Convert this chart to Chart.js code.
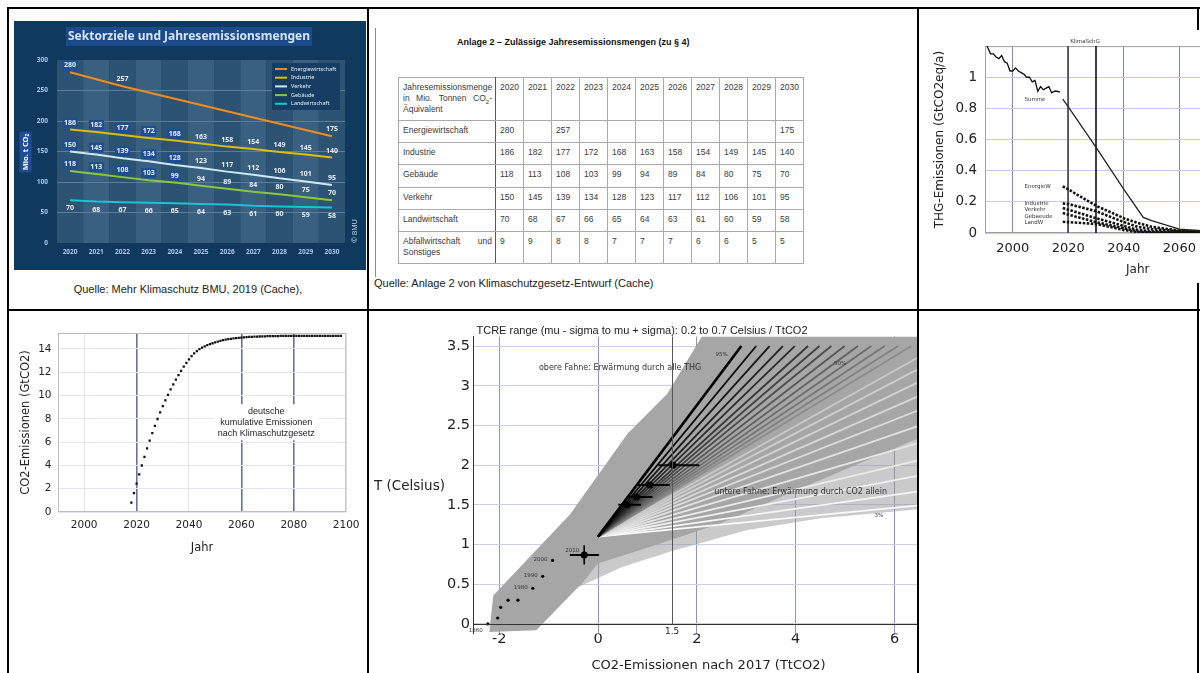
<!DOCTYPE html>
<html lang="de">
<head>
<meta charset="utf-8">
<title>Klimaschutzgesetz: Sektorziele und Emissionsbudget</title>
<script src="https://cdn.jsdelivr.net/npm/chart.js@4.4.1/dist/chart.umd.min.js"></script>
<style>
  html, body { margin: 0; padding: 0; background: #fff; }
  body { position: relative; width: 1200px; height: 673px; overflow: hidden;
         font-family: "Liberation Sans", Arial, sans-serif; color: #222; }
  .rule { position: absolute; background: #000; z-index: 3; }
  .plot { position: absolute; z-index: 1; background: #fff; }
  .caption { position: absolute; font-size: 11px; line-height: 13px; white-space: nowrap; color: #222; }
  #anlageTitel { position: absolute; left: 457px; top: 37px; font-size: 9px; line-height: 11px;
                 font-weight: bold; white-space: nowrap; color: #111; }
  #anlage { position: absolute; left: 398px; top: 77px; width: 405px; border-collapse: collapse;
            table-layout: fixed; font-size: 8.5px; color: #3a3a3a; }
  #anlage td { border: 1px solid #a9a9a9; padding: 4px 3px 0 4px; vertical-align: top;
               line-height: 11px; white-space: nowrap; overflow: hidden; }
  #anlage td:first-child { border-right: 1.5px solid #555; }
  .zeile { display: flex; justify-content: space-between; }
  .zeile sub { font-size: 6px; line-height: 0; }
</style>
</head>
<body>
  <!-- Rahmen der Seitentabelle -->
  <div class="rule" style="left:7px; top:7px; width:1193px; height:2px"></div>
  <div class="rule" style="left:7px; top:309px; width:1193px; height:2px"></div>
  <div class="rule" style="left:7px; top:7px; width:2px; height:666px"></div>
  <div class="rule" style="left:367px; top:7px; width:2px; height:666px"></div>
  <div class="rule" style="left:917px; top:7px; width:2px; height:666px"></div>
  <div class="rule" style="left:1197px; top:7px; width:2px; height:666px; z-index:0"></div>

  <!-- Zelle 1: BMU-Grafik -->
  <canvas id="bmu" class="plot" width="352" height="249" style="left:14px; top:21px"></canvas>
  <div class="caption" style="left:8px; width:360px; text-align:center; top:283px">Quelle: Mehr Klimaschutz BMU, 2019 (Cache),</div>

  <!-- Zelle 2: Anlage 2 -->
  <div style="position:absolute; left:375px; top:28px; width:1px; height:249px; background:#8c8c8c"></div>
  <div id="anlageTitel">Anlage 2 – Zulässige Jahresemissionsmengen (zu § 4)</div>
  <table id="anlage">
    <colgroup>
      <col style="width:97px"><col style="width:28px"><col style="width:28px"><col style="width:28px">
      <col style="width:28px"><col style="width:28px"><col style="width:28px"><col style="width:28px">
      <col style="width:28px"><col style="width:28px"><col style="width:28px"><col style="width:28px">
    </colgroup>
    <tbody id="anlageBody"></tbody>
  </table>
  <div class="caption" style="left:374px; top:277px">Quelle: Anlage 2 von Klimaschutzgesetz-Entwurf (Cache)</div>

  <!-- Zelle 3: THG-Emissionen -->
  <canvas id="thg" class="plot" width="395" height="253" style="left:920px; top:30px"></canvas>

  <!-- Zelle 4: kumulative Emissionen -->
  <canvas id="kumuliert" class="plot" width="356" height="250" style="left:10px; top:312px"></canvas>

  <!-- Zelle 5: TCRE -->
  <div class="plot" style="left:370px; top:318px; width:547px; height:355px; overflow:hidden">
    <canvas id="tcre" width="580" height="355"></canvas>
  </div>

<script>
// ---- Anlage 2: Jahresemissionsmengen in Mio. t CO2-Äquivalent ----
const jahre = ['2020', '2021', '2022', '2023', '2024', '2025', '2026', '2027', '2028', '2029', '2030'];
const energiewirtschaft = [280, null, 257, null, null, null, null, null, null, null, 175];
const industrie = [186, 182, 177, 172, 168, 163, 158, 154, 149, 145, 140];
const gebaeude = [118, 113, 108, 103, 99, 94, 89, 84, 80, 75, 70];
const verkehr = [150, 145, 139, 134, 128, 123, 117, 112, 106, 101, 95];
const landwirtschaft = [70, 68, 67, 66, 65, 64, 63, 61, 60, 59, 58];
const abfall = [9, 9, 8, 8, 7, 7, 7, 6, 6, 5, 5];
const bmuTicks = [0, 50, 100, 150, 200, 250, 300];

// ---- THG-Emissionen (GtCO2eq/a) ----
const thgJahre = [1990, 1991, 1992, 1993, 1994, 1995, 1996, 1997, 1998, 1999, 2000, 2001, 2002, 2003,
                  2004, 2005, 2006, 2007, 2008, 2009, 2010, 2011, 2012, 2013, 2014, 2015, 2016, 2017];
const thgSumme = [1.24, 1.19, 1.15, 1.15, 1.13, 1.12, 1.14, 1.10, 1.09, 1.04, 1.04, 1.06, 1.04, 1.03,
                  1.02, 1.00, 1.00, 0.97, 0.98, 0.91, 0.94, 0.92, 0.93, 0.94, 0.90, 0.91, 0.91, 0.905];
const prognoseJahre = [2018, 2020, 2030, 2040, 2047, 2050, 2060, 2070, 2100];
const prognoseSumme = [0.86, 0.81, 0.55, 0.28, 0.10, 0.08, 0.025, 0.012, 0.01];
const sektorJahre = [2018, 2020, 2030, 2040, 2045, 2050, 2060, 2070, 2100];
const sektorEnergie = [0.30, 0.28, 0.175, 0.095, 0.065, 0.04, 0.015, 0.01, 0.01];
const sektorIndustrie = [0.19, 0.186, 0.14, 0.07, 0.04, 0.025, 0.012, 0.01, 0.01];
const sektorVerkehr = [0.16, 0.15, 0.095, 0.045, 0.02, 0.01, 0.005, 0.005, 0.005];
const sektorGebaeude = [0.128, 0.118, 0.07, 0.03, 0.01, 0.005, 0.002, 0.002, 0.002];
const sektorLandw = [0.072, 0.07, 0.058, 0.02, 0.004, 0.002, 0.001, 0.001, 0.001];
const klimaSchGJahre = [2020, 2030];
const thgXTicks = [2000, 2020, 2040, 2060, 2080, 2100];
const thgYTicks = [0, 0.2, 0.4, 0.6, 0.8, 1.0];

// ---- kumulative CO2-Emissionen (GtCO2) ----
const co2Jahre = [2018, 2019, 2020, 2021, 2022, 2023, 2024, 2025, 2026, 2027,
                  2028, 2029, 2030, 2031, 2032, 2033, 2034, 2035, 2036, 2037,
                  2038, 2039, 2040, 2041, 2042, 2043, 2044, 2045, 2046, 2047,
                  2048, 2049, 2050, 2051, 2052, 2053, 2054, 2055, 2056, 2057,
                  2058, 2059, 2060, 2061, 2062, 2063, 2064, 2065, 2066, 2067,
                  2068, 2069, 2070, 2071, 2072, 2073, 2074, 2075, 2076, 2077,
                  2078, 2079, 2080, 2081, 2082, 2083, 2084, 2085, 2086, 2087,
                  2088, 2089, 2090, 2091, 2092, 2093, 2094, 2095, 2096, 2097, 2098];
const co2Kumuliert = [0.80, 1.62, 2.43, 3.22, 3.99, 4.74, 5.45, 6.12, 6.77, 7.39,
                      7.98, 8.54, 9.08, 9.58, 10.06, 10.52, 10.95, 11.36, 11.75, 12.12,
                      12.47, 12.80, 13.10, 13.37, 13.61, 13.81, 13.97, 14.10, 14.21, 14.31,
                      14.40, 14.48, 14.56, 14.63, 14.69, 14.74, 14.79, 14.83, 14.86, 14.89,
                      14.92, 14.94, 14.96, 14.98, 15.00, 15.02, 15.03, 15.04, 15.05, 15.06,
                      15.07, 15.08, 15.09, 15.09, 15.10, 15.10, 15.10, 15.11, 15.11, 15.11,
                      15.11, 15.12, 15.12, 15.12, 15.12, 15.12, 15.12, 15.12, 15.12, 15.12,
                      15.12, 15.12, 15.12, 15.12, 15.12, 15.12, 15.12, 15.12, 15.12, 15.12, 15.12];
const co2XTicks = [2000, 2020, 2040, 2060, 2080, 2100];
const co2YTicks = [0, 2, 4, 6, 8, 10, 12, 14];
const co2Notiz = ['deutsche', 'kumulative Emissionen', 'nach Klimaschutzgesetz'];

// ---- TCRE: Temperatur über CO2-Emissionen nach 2017 ----
const histX = [-2.23, -2.03, -1.97, -1.82, -1.62, -1.32, -1.12, -0.92];
const histT = [0.0, 0.075, 0.21, 0.30, 0.30, 0.45, 0.60, 0.80];
const histJahr = ['1860', '', '', '', '', '1980', '1990', '2000'];
const zielX = [-0.28, 0.59, 0.78, 1.05, 1.52];
const zielT = [0.87, 1.50, 1.60, 1.75, 2.00];
const zielXmin = [-0.57, 0.41, 0.58, 0.81, 1.22];
const zielXmax = [0.02, 0.87, 1.10, 1.45, 2.05];
const zielTmin = [0.75, 1.50, 1.60, 1.75, 2.00];
const zielTmax = [0.99, 1.50, 1.60, 1.75, 2.00];
const zielJahr = ['2010', '', '', '', ''];
const facherStartX = 0;
const facherStartT = 1.1;
const facherEndeX = [2.9, 3.2, 3.47, 3.74, 3.98, 4.25, 4.48, 4.72, 4.99, 5.26, 5.53, 5.8, 6.07, 6.34,
                     6.6, 6.6, 6.6, 6.6, 6.6, 6.6, 6.6, 6.6, 6.6, 6.6, 6.6];
const facherEndeT = [3.5, 3.5, 3.5, 3.5, 3.5, 3.5, 3.5, 3.5, 3.5, 3.5, 3.5, 3.5, 3.5, 3.5,
                     3.4, 3.25, 3.08, 2.9, 2.72, 2.52, 2.3, 2.08, 1.88, 1.68, 1.5];
const obereFahneX = [-2.2, -1.25, -0.3, 0, 1.2, 2.5, 4.0, 6.6, 6.6, 2.1, 1.4, 0.6, -0.57, -2.12];
const obereFahneT = [-0.1, -0.08, 0.53, 0.76, 1.0, 1.27, 1.68, 2.37, 3.62, 3.62, 2.9, 2.4, 1.38, 0.36];
const untereFahneX = [-0.45, 0.5, 1.5, 3.0, 4.5, 6.6, 6.6, 0];
const untereFahneT = [0.45, 0.72, 0.92, 1.18, 1.33, 1.45, 2.5, 0.76];
const budgetMarke = 1.5;
const tcreXTicks = [-2, 0, 2, 4, 6];
const tcreYTicks = [0, 0.5, 1, 1.5, 2, 2.5, 3, 3.5];

// ---------------------------------------------------------------
const punkte = (xs, ys) => xs.map((x, i) => ({x: x, y: ys[i]}));
const fixSize = (prop, value) => (scale) => { scale[prop] = value; };
const setTicks = (list) => (scale) => { scale.ticks = list.map(v => ({value: v})); };
const DEJAVU = "'DejaVu Sans', sans-serif";
const NOTO = "'Noto Sans', sans-serif";

Chart.defaults.font.family = DEJAVU;
Chart.defaults.color = '#222';

// ---- Tabelle ----
(function buildTable() {
  const kopf = '<div class="zeile"><span>Jahresemissionsmenge</span></div>' +
    '<div class="zeile"><span>in</span><span>Mio.</span><span>Tonnen</span><span>CO<sub>2</sub>-</span></div>' +
    '<div>Äquivalent</div>';
  const abfallName = '<div class="zeile"><span>Abfallwirtschaft</span><span>und</span></div><div>Sonstiges</div>';
  const sektoren = [
    ['Energiewirtschaft', energiewirtschaft],
    ['Industrie', industrie],
    ['Gebäude', gebaeude],
    ['Verkehr', verkehr],
    ['Landwirtschaft', landwirtschaft],
    [abfallName, abfall]
  ];
  const hoehen = [22, 22, 23, 22, 22, 32];
  let html = '<tr style="height:43px"><td>' + kopf + '</td>' +
    jahre.map(j => '<td>' + j + '</td>').join('') + '</tr>';
  sektoren.forEach(([name, werte], r) => {
    html += '<tr style="height:' + hoehen[r] + 'px"><td>' + name + '</td>' +
      werte.map(v => '<td>' + (v === null ? '' : v) + '</td>').join('') + '</tr>';
  });
  document.getElementById('anlageBody').innerHTML = html;
})();

// ---- BMU: Sektorziele und Jahresemissionsmengen ----
const bmuHintergrund = {
  id: 'bmuHintergrund',
  beforeDraw(chart) {
    const {ctx, chartArea: a, scales: {x}} = chart;
    ctx.save();
    ctx.fillStyle = '#0f3a5e';
    ctx.fillRect(0, 0, chart.width, chart.height);
    const step = x.getPixelForValue(1) - x.getPixelForValue(0);
    chart.data.labels.forEach((_, i) => {
      const cx = x.getPixelForValue(i);
      ctx.fillStyle = i % 2 ? '#39617f' : '#2d5372';
      ctx.fillRect(cx - step / 2, a.top, step, a.bottom - a.top);
    });
    ctx.restore();
  }
};

const bmuBeschriftung = {
  id: 'bmuBeschriftung',
  afterDraw(chart) {
    const {ctx, chartArea: a} = chart;
    ctx.save();
    // Titel
    const titel = 'Sektorziele und Jahresemissionsmengen';
    ctx.font = 'bold 12px ' + NOTO;
    const tw = ctx.measureText(titel).width;
    ctx.fillStyle = '#1c4b8b';
    ctx.fillRect(175 - tw / 2 - 2, 6, tw + 4, 19);
    ctx.fillStyle = '#d6e4f4';
    ctx.textAlign = 'center';
    ctx.textBaseline = 'middle';
    ctx.fillText(titel, 175, 16);

    // Achsentitel
    ctx.save();
    ctx.translate(11.5, 131);
    ctx.rotate(-Math.PI / 2);
    ctx.font = 'bold 7.5px ' + NOTO;
    const aw = ctx.measureText('Mio. t CO₂').width;
    ctx.fillStyle = '#1e4f96';
    ctx.fillRect(-aw / 2 - 2, -6, aw + 4, 12);
    ctx.fillStyle = '#ffffff';
    ctx.fillText('Mio. t CO₂', 0, 0);
    ctx.restore();

    // Copyright
    ctx.save();
    ctx.translate(341, 210);
    ctx.rotate(-Math.PI / 2);
    ctx.font = '7px ' + NOTO;
    ctx.fillStyle = '#c5d4e4';
    ctx.fillText('© BMU', 0, 0);
    ctx.restore();

    // Legende
    const lx = a.right - 73, ly = a.top + 3;
    ctx.fillStyle = '#163e62';
    ctx.fillRect(lx, ly, 68, 47);
    ctx.font = '5.5px ' + NOTO;
    ctx.textAlign = 'left';
    chart.data.datasets.forEach((ds, i) => {
      const yy = ly + 6 + i * 8.7;
      ctx.strokeStyle = ds.borderColor;
      ctx.lineWidth = 2;
      ctx.beginPath();
      ctx.moveTo(lx + 3, yy);
      ctx.lineTo(lx + 15, yy);
      ctx.stroke();
      ctx.fillStyle = '#e8eef6';
      ctx.fillText(ds.label, lx + 19, yy);
    });

    // Datenbeschriftungen
    ctx.font = 'bold 7px ' + NOTO;
    ctx.textAlign = 'center';
    chart.data.datasets.forEach((ds, di) => {
      const meta = chart.getDatasetMeta(di);
      ds.data.forEach((v, i) => {
        if (v === null) return;
        const pt = meta.data[i];
        const yy = pt.y + (ds.labelBelow ? 8 : -7);
        const txt = String(v);
        if (i < ds.boxedUntil) {
          const w = ctx.measureText(txt).width + 3;
          ctx.fillStyle = '#1d4e93';
          ctx.fillRect(pt.x - w / 2, yy - 5, w, 10);
        }
        ctx.fillStyle = '#e6edf5';
        ctx.fillText(txt, pt.x, yy);
      });
    });
    ctx.restore();
  }
};

const bmuTickFont = {size: 6.5, weight: 'bold', family: NOTO};
new Chart(document.getElementById('bmu'), {
  type: 'line',
  data: {
    labels: jahre,
    datasets: [
      {label: 'Energiewirtschaft', data: energiewirtschaft, borderColor: '#f28b1d', boxedUntil: 1},
      {label: 'Industrie', data: industrie, borderColor: '#dcbd0c', boxedUntil: 5},
      {label: 'Verkehr', data: verkehr, borderColor: '#cfe9f3', boxedUntil: 5},
      {label: 'Gebäude', data: gebaeude, borderColor: '#8cc63e', boxedUntil: 5},
      {label: 'Landwirtschaft', data: landwirtschaft, borderColor: '#1cc2d6', boxedUntil: 0, labelBelow: true}
    ]
  },
  options: {
    responsive: false,
    animation: false,
    spanGaps: true,
    elements: {line: {borderWidth: 2, tension: 0}, point: {radius: 0}},
    layout: {padding: {top: 39, right: 21, left: 0, bottom: 0}},
    scales: {
      x: {
        offset: true,
        grid: {display: false, drawTicks: false},
        border: {display: false},
        ticks: {color: '#a9c7ec', font: bmuTickFont, padding: 5, maxRotation: 0, autoSkip: false},
        afterFit: fixSize('height', 27)
      },
      y: {
        min: 0,
        max: 300,
        border: {display: false},
        grid: {
          drawTicks: false,
          color: (c) => (c.tick.value > 0 && c.tick.value < 300) ? '#5d7d9a' : 'rgba(0,0,0,0)'
        },
        ticks: {color: '#a9c7ec', font: bmuTickFont, padding: 9},
        afterBuildTicks: setTicks(bmuTicks),
        afterFit: fixSize('width', 43)
      }
    },
    plugins: {legend: {display: false}, tooltip: {enabled: false}}
  },
  plugins: [bmuHintergrund, bmuBeschriftung]
});

// ---- THG-Emissionen nach Sektoren ----
const thgDeko = {
  id: 'thgDeko',
  beforeDatasetsDraw(chart) {
    const {ctx, chartArea: a, scales: {x}} = chart;
    ctx.save();
    ctx.strokeStyle = '#a0a0a0';
    ctx.lineWidth = 1;
    ctx.strokeRect(a.left + 0.5, a.top + 0.5, a.right - a.left - 1, a.bottom - a.top - 1);
    klimaSchGJahre.forEach((j, i) => {
      const px = Math.round(x.getPixelForValue(j));
      ctx.strokeStyle = i === 0 ? '#444' : '#111';
      ctx.lineWidth = 1.6;
      ctx.beginPath();
      ctx.moveTo(px, a.top);
      ctx.lineTo(px, a.bottom);
      ctx.stroke();
    });
    ctx.restore();
  },
  afterDraw(chart) {
    const {ctx, chartArea: a, scales: {x, y}} = chart;
    ctx.save();
    ctx.fillStyle = '#333';
    ctx.textBaseline = 'middle';
    ctx.font = '5.5px ' + DEJAVU;
    ctx.textAlign = 'center';
    ctx.fillText('KlimaSchG', x.getPixelForValue(2026), a.top - 5);
    ctx.textAlign = 'left';
    const notizen = [['Summe', 0.855], ['EnergieW', 0.30], ['Industrie', 0.19],
                     ['Verkehr', 0.15], ['Gebaeude', 0.108], ['LandW', 0.068]];
    notizen.forEach(([t, v]) => ctx.fillText(t, x.getPixelForValue(2004.2), y.getPixelForValue(v)));
    ctx.restore();
  }
};

const sektorLinie = (werte) => ({
  data: punkte(sektorJahre, werte), borderColor: '#111', borderWidth: 2.6, borderDash: [2.5, 1.5]
});

new Chart(document.getElementById('thg'), {
  type: 'line',
  data: {
    datasets: [
      {data: punkte(thgJahre, thgSumme), borderColor: '#111', borderWidth: 1.3},
      {data: punkte(prognoseJahre, prognoseSumme), borderColor: '#222', borderWidth: 1.3},
      sektorLinie(sektorEnergie),
      sektorLinie(sektorIndustrie),
      sektorLinie(sektorVerkehr),
      sektorLinie(sektorGebaeude),
      sektorLinie(sektorLandw)
    ]
  },
  options: {
    responsive: false,
    animation: false,
    elements: {point: {radius: 0}, line: {tension: 0}},
    layout: {padding: {top: 8.3, right: 18, left: 0, bottom: 0}},
    scales: {
      x: {
        type: 'linear', min: 1990, max: 2100,
        grid: {color: '#7f89b0', drawTicks: false},
        border: {display: false},
        ticks: {font: {size: 13}, padding: 8, maxRotation: 0, callback: v => String(v)},
        title: {display: true, text: 'Jahr', font: {size: 12}, padding: {top: 0, bottom: 5.5}},
        afterBuildTicks: setTicks(thgXTicks),
        afterFit: fixSize('height', 50)
      },
      y: {
        min: 0, max: 1.2,
        grid: {color: '#c4cbe6', drawTicks: false},
        border: {display: false},
        ticks: {font: {size: 13.5}, padding: 8, callback: v => String(v)},
        title: {display: true, text: 'THG-Emissionen (GtCO2eq/a)', font: {size: 12}, padding: {top: 12.5, bottom: 0}},
        afterBuildTicks: setTicks(thgYTicks),
        afterFit: fixSize('width', 65)
      }
    },
    plugins: {legend: {display: false}, tooltip: {enabled: false}}
  },
  plugins: [thgDeko]
});

// ---- kumulative Emissionen ----
const co2Deko = {
  id: 'co2Deko',
  beforeDatasetsDraw(chart) {
    const {ctx, chartArea: a, scales: {x, y}} = chart;
    ctx.save();
    ctx.strokeStyle = '#bdbdbd';
    ctx.lineWidth = 1;
    ctx.strokeRect(a.left + 0.5, a.top + 0.5, a.right - a.left - 1, a.bottom - a.top - 1);
    ctx.font = '9px "Liberation Sans", Arial, sans-serif';
    const cx = x.getPixelForValue(2069.5);
    const cy = y.getPixelForValue(7.7);
    const w = Math.max(...co2Notiz.map(t => ctx.measureText(t).width)) + 8;
    ctx.fillStyle = '#fff';
    ctx.fillRect(cx - w / 2, cy - 18, w, 36);
    ctx.fillStyle = '#222';
    ctx.textAlign = 'center';
    ctx.textBaseline = 'middle';
    co2Notiz.forEach((t, i) => ctx.fillText(t, cx, cy + (i - 1) * 11));
    ctx.restore();
  }
};

const markiert = [2020, 2060, 2080];
new Chart(document.getElementById('kumuliert'), {
  type: 'scatter',
  data: {
    datasets: [{
      data: punkte(co2Jahre, co2Kumuliert),
      pointStyle: 'rect', pointRadius: 1.6, backgroundColor: '#111', borderWidth: 0
    }]
  },
  options: {
    responsive: false,
    animation: false,
    layout: {padding: {top: 21, right: 18, left: 0, bottom: 0}},
    scales: {
      x: {
        type: 'linear', min: 1990, max: 2100,
        grid: {
          drawTicks: false,
          color: (c) => markiert.includes(c.tick.value) ? '#66749b' : '#e2e6f1',
          lineWidth: (c) => markiert.includes(c.tick.value) ? 1.6 : 1
        },
        border: {display: false},
        ticks: {font: {size: 10.5}, padding: 6.5, maxRotation: 0, callback: v => String(v)},
        title: {display: true, text: 'Jahr', font: {size: 11.5}, padding: {top: 0, bottom: 7}},
        afterBuildTicks: setTicks(co2XTicks),
        afterFit: fixSize('height', 50)
      },
      y: {
        min: 0, max: 15.36,
        grid: {drawTicks: false, color: '#e2e6f1'},
        border: {display: false},
        ticks: {font: {size: 10.5}, padding: 6.5, callback: v => String(v)},
        title: {display: true, text: 'CO2-Emissionen (GtCO2)', font: {size: 11.5}, padding: {top: 9, bottom: 0}},
        afterBuildTicks: setTicks(co2YTicks),
        afterFit: fixSize('width', 48)
      }
    },
    plugins: {legend: {display: false}, tooltip: {enabled: false}}
  },
  plugins: [co2Deko]
});

// ---- TCRE-Fächer ----
const tcreDeko = {
  id: 'tcreDeko',
  afterDatasetsDraw(chart) {
    const {ctx, chartArea: a, scales: {x, y}} = chart;
    ctx.save();
    ctx.strokeStyle = '#333';
    ctx.lineWidth = 1;
    const y0 = Math.round(y.getPixelForValue(0)) + 0.5;
    ctx.beginPath();
    ctx.moveTo(a.left, y0);
    ctx.lineTo(a.right, y0);
    ctx.stroke();
    const bx = Math.round(x.getPixelForValue(budgetMarke)) + 0.5;
    ctx.strokeStyle = '#555';
    ctx.beginPath();
    ctx.moveTo(bx, a.top);
    ctx.lineTo(bx, y0);
    ctx.stroke();
    ctx.restore();
  },
  afterDraw(chart) {
    const {ctx, scales: {x, y}} = chart;
    ctx.save();
    ctx.fillStyle = '#222';
    ctx.textBaseline = 'middle';
    ctx.textAlign = 'center';
    ctx.font = '11px "Liberation Sans", Arial, sans-serif';
    ctx.fillText('TCRE range (mu - sigma to mu + sigma): 0.2 to 0.7 Celsius / TtCO2', 272, 13);
    ctx.font = '13.5px ' + DEJAVU;
    ctx.textAlign = 'left';
    ctx.fillText('T (Celsius)', 4, 168);
    ctx.textAlign = 'center';
    ctx.font = '9px ' + DEJAVU;
    ctx.fillText(String(budgetMarke), x.getPixelForValue(budgetMarke), 314);

    const notizen = [
      ['obere Fahne: Erwärmung durch alle THG', 0.445, 3.22, 8],
      ['untere Fahne: Erwärmung durch CO2 allein', 4.1, 1.666, 8],
      ['95%', 2.5, 3.39, 5.5],
      ['50%', 4.9, 3.28, 5.5],
      ['3%', 5.68, 1.36, 5.5]
    ];
    ctx.fillStyle = '#333';
    notizen.forEach(([t, vx, vy, s]) => {
      ctx.font = s + 'px ' + DEJAVU;
      ctx.fillText(t, x.getPixelForValue(vx), y.getPixelForValue(vy));
    });

    ctx.font = '5.5px ' + DEJAVU;
    ctx.textAlign = 'right';
    histJahr.forEach((t, i) => {
      if (!t) return;
      const dy = i === 0 ? 7 : -1;
      ctx.fillText(t, x.getPixelForValue(histX[i]) - 5, y.getPixelForValue(histT[i]) + dy);
    });
    zielJahr.forEach((t, i) => {
      if (!t) return;
      ctx.fillText(t, x.getPixelForValue(zielX[i]) - 5, y.getPixelForValue(zielT[i]) - 4);
    });
    ctx.restore();
  }
};

// Grauwert je Fächerlinie: obere Fahne schwarz bis mittelgrau, untere Fahne fast weiß
const facherGrau = (i) => i < 14 ? Math.round(140 * i / 13) : Math.round(200 + 50 * (i - 14) / 10);

const tcreSets = [];
tcreSets.push({data: punkte(untereFahneX, untereFahneT), fill: 'shape',
               backgroundColor: 'rgba(150,150,150,0.5)', borderColor: 'rgba(0,0,0,0)'});
tcreSets.push({data: punkte(obereFahneX, obereFahneT), fill: 'shape',
               backgroundColor: '#a6a6a6', borderColor: 'rgba(0,0,0,0)'});
for (let i = facherEndeX.length - 1; i >= 0; i--) {
  const g = facherGrau(i);
  tcreSets.push({
    data: [{x: facherStartX, y: facherStartT}, {x: facherEndeX[i], y: facherEndeT[i]}],
    borderColor: 'rgb(' + g + ',' + g + ',' + g + ')',
    borderWidth: i === 0 ? 2.6 : 1.8
  });
}
zielX.forEach((v, i) => {
  tcreSets.push({data: [{x: zielXmin[i], y: zielT[i]}, {x: zielXmax[i], y: zielT[i]}],
                 borderColor: '#000', borderWidth: 2});
  tcreSets.push({data: [{x: v, y: zielTmin[i]}, {x: v, y: zielTmax[i]}],
                 borderColor: '#000', borderWidth: 1.6});
});
tcreSets.push({data: punkte(histX, histT), showLine: false, pointRadius: 1.6,
               pointBackgroundColor: '#000', pointBorderWidth: 0});
tcreSets.push({data: punkte(zielX, zielT), showLine: false, pointRadius: 3.5,
               pointBackgroundColor: '#000', pointBorderWidth: 0});
tcreSets.forEach((d, i) => { d.order = tcreSets.length - i; });

new Chart(document.getElementById('tcre'), {
  type: 'line',
  data: {datasets: tcreSets},
  options: {
    responsive: false,
    animation: false,
    elements: {point: {radius: 0}, line: {tension: 0, borderWidth: 1.8}},
    layout: {padding: {top: 18.5, right: 6, left: 0, bottom: 0}},
    scales: {
      x: {
        type: 'linear', min: -2.53, max: 7,
        grid: {color: '#8d96bc', drawTicks: false},
        border: {display: false},
        ticks: {font: {size: 14.5}, padding: -3, maxRotation: 0, callback: v => String(v)},
        title: {display: true, text: 'CO2-Emissionen nach 2017 (TtCO2)', font: {size: 13}, padding: {top: 0, bottom: 0}},
        afterBuildTicks: setTicks(tcreXTicks),
        afterFit: fixSize('height', 39.5)
      },
      y: {
        min: -0.12, max: 3.62,
        grid: {color: '#c9cfe8', drawTicks: false},
        border: {display: true, color: '#333'},
        ticks: {font: {size: 14.5}, padding: 3, callback: v => String(v)},
        afterBuildTicks: setTicks(tcreYTicks),
        afterFit: fixSize('width', 103)
      }
    },
    plugins: {legend: {display: false}, tooltip: {enabled: false}}
  },
  plugins: [tcreDeko]
});
</script>
</body>
</html>
